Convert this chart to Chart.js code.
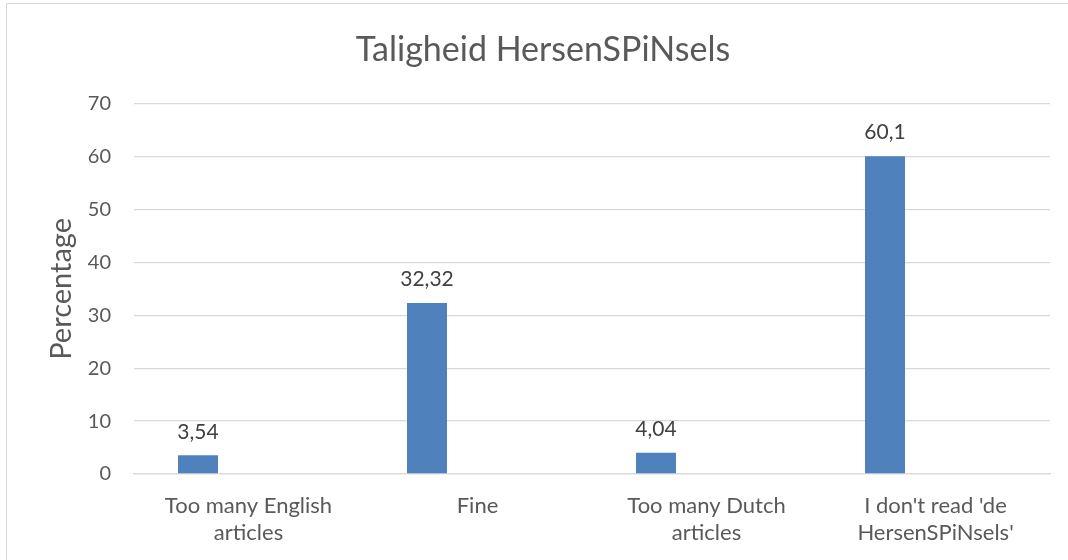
<!DOCTYPE html>
<html>
<head>
<meta charset="utf-8">
<script src="https://cdn.jsdelivr.net/npm/chart.js@4/dist/chart.umd.min.js"></script>
<style>
  html, body { margin: 0; padding: 0; background: #fff; }
  #wrap { position: relative; width: 1068px; height: 560px; }
</style>
</head>
<body>
<div id="wrap"><canvas id="taal"></canvas></div>
<script>
const categories = [
  ['Too many English', 'articles'],
  'Fine',
  ['Too many Dutch', 'articles'],
  ["I don't read 'de", "HersenSPiNsels'"]
];
const percentages = [3.54, 32.32, 4.04, 60.1];
const emptySeries = [null, null, null, null];   // second (empty) series in the original, shifts the bars left
const yTicks = [0, 10, 20, 30, 40, 50, 60, 70];

const fontName = 'Lato, "Open Sans", sans-serif';

// value labels above bars, with a decimal comma
const valueLabels = {
  id: 'valueLabels',
  afterDatasetsDraw(chart) {
    const ctx = chart.ctx;
    const meta = chart.getDatasetMeta(0);
    ctx.save();
    ctx.font = '21px ' + fontName;
    ctx.fillStyle = '#404040';
    ctx.textAlign = 'center';
    ctx.textBaseline = 'bottom';
    meta.data.forEach((bar, i) => {
      const v = percentages[i];
      ctx.fillText(String(v).replace('.', ','), bar.x, bar.y - 13);
    });
    ctx.restore();
  }
};

// light frame round the chart
const frame = {
  id: 'frame',
  beforeDraw(chart) {
    const ctx = chart.ctx;
    ctx.save();
    ctx.strokeStyle = '#d9d9d9';
    ctx.lineWidth = 1;
    ctx.strokeRect(6.5, 3.5, chart.width, chart.height);
    ctx.restore();
  }
};

const config = {
  type: 'bar',
  data: {
    labels: categories,
    datasets: [
      { label: 'Percentage', data: percentages, backgroundColor: '#4f81bd', borderWidth: 0 },
      { label: '', data: emptySeries, backgroundColor: '#c0504d', borderWidth: 0 }
    ]
  },
  options: {
    responsive: false,
    animation: false,
    categoryPercentage: 0.882,
    barPercentage: 0.396,
    layout: { padding: { left: 36, top: 0, right: 18, bottom: 0 } },
    plugins: {
      legend: { display: false },
      tooltip: { enabled: false },
      title: {
        display: true,
        text: 'Taligheid HersenSPiNsels',
        color: '#595959',
        font: { family: fontName, size: 34, weight: 'normal' },
        padding: { top: 30, bottom: 33 }
      }
    },
    scales: {
      x: {
        grid: { display: false, drawTicks: false },
        border: { display: true, color: '#d9d9d9', width: 1.3 },
        ticks: {
          color: '#595959',
          font: { family: fontName, size: 22, lineHeight: 1.23 },
          padding: 18,
          maxRotation: 0,
          autoSkip: false
        },
        afterFit(scale) { scale.height = 86; }
      },
      y: {
        min: 0,
        max: 70,
        afterBuildTicks(scale) { scale.ticks = yTicks.map(v => ({ value: v })); },
        grid: { color: '#d9d9d9', lineWidth: 1.3, drawTicks: false },
        border: { display: false },
        ticks: {
          color: '#595959',
          font: { family: fontName, size: 20 },
          padding: 23
        },
        title: {
          display: true,
          text: 'Percentage',
          color: '#595959',
          font: { family: fontName, size: 29 },
          padding: { top: 8, bottom: 0 }
        },
        afterFit(scale) { scale.width = 98; }
      }
    }
  },
  plugins: [valueLabels, frame]
};

const canvas = document.getElementById('taal');
canvas.width = 1068;
canvas.height = 560;
var myChart = new Chart(canvas, config);
</script>
</body>
</html>
